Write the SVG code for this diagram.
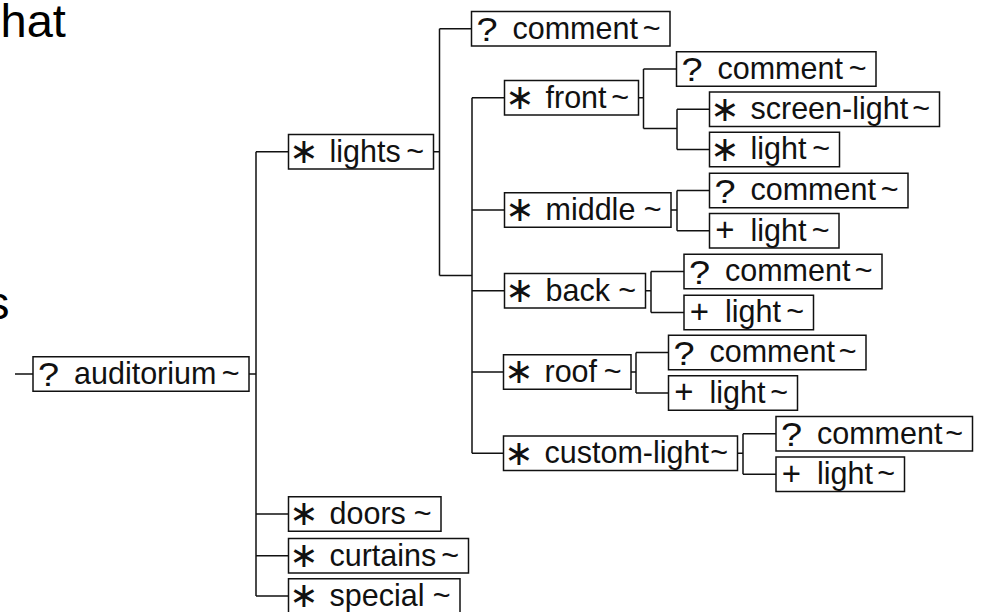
<svg xmlns="http://www.w3.org/2000/svg" width="988" height="612" viewBox="0 0 988 612">
  <style>
    .box { fill: #fff; stroke: #111; stroke-width: 1.5; }
    .wire { fill: none; stroke: #111; stroke-width: 1.5; }
    .name { font-family: "Liberation Sans", Arial, sans-serif; font-size: 30.5px; fill: #111; }
    .tilde { font-family: "Liberation Sans", Arial, sans-serif; font-size: 30.5px; fill: #111; text-anchor: end; }
    .q { font-family: "Liberation Sans", Arial, sans-serif; font-size: 33px; fill: #111; text-anchor: middle; }
    .star { font-family: "DejaVu Sans", sans-serif; font-size: 35px; fill: #111; text-anchor: middle; }
    .plus { font-family: "Liberation Sans", Arial, sans-serif; font-size: 33px; fill: #111; text-anchor: middle; }
    .big { font-family: "Liberation Sans", Arial, sans-serif; font-size: 47px; fill: #000; }
  </style>
  <defs>
    <!-- occurrence markers: optional, zero-or-more, one-or-more -->
    <text id="m-opt" class="q" transform="translate(15.5 29.5) scale(1.15 1)">?</text>
    <text id="m-many" class="star" x="15.5" y="28.5">∗</text>
    <text id="m-plus" class="plus" x="15.5" y="27.5">+</text>
  </defs>

  <rect width="988" height="612" fill="#fff"/>

  <!-- fragments of surrounding slide text -->
  <text class="big" x="0.5" y="37">hat</text>
  <text class="big" x="9.5" y="319" text-anchor="end">s</text>

  <!-- tree connectors -->
  <g id="connectors" class="wire">
    <path d="M15 374H33 M249 374H256 M256 151.75V596 M256 151.75H288.5 M256 514H288.5 M256 555.75H288.5 M256 596H288.5"/>
    <path d="M433.5 151.75H439.5 M439.5 28.75V275.5 M439.5 28.75H471.5 M439.5 275.5H472"/>
    <path d="M472 97.75V453.25 M472 97.75H504.5 M472 210H504.5 M472 290.75H504.5 M472 372H503.5 M472 453.25H503.5"/>
    <path d="M638.5 97.75H643.5 M643.5 69V128.5 M643.5 69H676.5 M643.5 128.5H677 M677 109.25V149.5 M677 109.25H709.5 M677 149.5H709.5"/>
    <path d="M671 210H677 M677 190.5V230.75 M677 190.5H709.5 M677 230.75H709.5"/>
    <path d="M645.5 290.75H651 M651 271.5V312.5 M651 271.5H684 M651 312.5H684"/>
    <path d="M631 372H636 M636 352.5V393 M636 352.5H668.5 M636 393H668.5"/>
    <path d="M737.5 453.25H743 M743 433.75V474.25 M743 433.75H776 M743 474.25H776"/>
  </g>

  <!-- element nodes -->
  <g id="auditorium" transform="translate(33 356.75)">
    <rect class="box" width="216" height="34.5"/>
    <use href="#m-opt"/>
    <text class="name" x="41" y="27">auditorium</text>
    <text class="tilde" x="206.5" y="27">~</text>
  </g>

  <g id="lights" transform="translate(288.5 134.5)">
    <rect class="box" width="145" height="34.5"/>
    <use href="#m-many"/>
    <text class="name" x="41" y="27">lights</text>
    <text class="tilde" x="135.5" y="27">~</text>
  </g>

  <g id="lights-comment" transform="translate(471.5 11.5)">
    <rect class="box" width="198.5" height="34.5"/>
    <use href="#m-opt"/>
    <text class="name" x="41" y="27">comment</text>
    <text class="tilde" x="189" y="27">~</text>
  </g>

  <g id="front" transform="translate(504.5 80.5)">
    <rect class="box" width="134" height="34.5"/>
    <use href="#m-many"/>
    <text class="name" x="41" y="27">front</text>
    <text class="tilde" x="124.5" y="27">~</text>
  </g>

  <g id="front-comment" transform="translate(676.5 51.75)">
    <rect class="box" width="199.5" height="34.5"/>
    <use href="#m-opt"/>
    <text class="name" x="41" y="27">comment</text>
    <text class="tilde" x="190" y="27">~</text>
  </g>

  <g id="front-screen-light" transform="translate(709.5 92)">
    <rect class="box" width="230" height="34.5"/>
    <use href="#m-many"/>
    <text class="name" x="41" y="27">screen-light</text>
    <text class="tilde" x="220.5" y="27">~</text>
  </g>

  <g id="front-light" transform="translate(709.5 132.25)">
    <rect class="box" width="130" height="34.5"/>
    <use href="#m-many"/>
    <text class="name" x="41" y="27">light</text>
    <text class="tilde" x="120.5" y="27">~</text>
  </g>

  <g id="middle" transform="translate(504.5 192.75)">
    <rect class="box" width="166.5" height="34.5"/>
    <use href="#m-many"/>
    <text class="name" x="41" y="27">middle</text>
    <text class="tilde" x="157" y="27">~</text>
  </g>

  <g id="middle-comment" transform="translate(709.5 173.25)">
    <rect class="box" width="198.5" height="34.5"/>
    <use href="#m-opt"/>
    <text class="name" x="41" y="27">comment</text>
    <text class="tilde" x="189" y="27">~</text>
  </g>

  <g id="middle-light" transform="translate(709.5 213.5)">
    <rect class="box" width="129.5" height="34.5"/>
    <use href="#m-plus"/>
    <text class="name" x="41" y="27">light</text>
    <text class="tilde" x="120" y="27">~</text>
  </g>

  <g id="back" transform="translate(504.5 273.5)">
    <rect class="box" width="141" height="34.5"/>
    <use href="#m-many"/>
    <text class="name" x="41" y="27">back</text>
    <text class="tilde" x="131.5" y="27">~</text>
  </g>

  <g id="back-comment" transform="translate(684 254.25)">
    <rect class="box" width="198" height="34.5"/>
    <use href="#m-opt"/>
    <text class="name" x="41" y="27">comment</text>
    <text class="tilde" x="188.5" y="27">~</text>
  </g>

  <g id="back-light" transform="translate(684 295.25)">
    <rect class="box" width="129.5" height="34.5"/>
    <use href="#m-plus"/>
    <text class="name" x="41" y="27">light</text>
    <text class="tilde" x="120" y="27">~</text>
  </g>

  <g id="roof" transform="translate(503.5 354.75)">
    <rect class="box" width="127.5" height="34.5"/>
    <use href="#m-many"/>
    <text class="name" x="41" y="27">roof</text>
    <text class="tilde" x="118" y="27">~</text>
  </g>

  <g id="roof-comment" transform="translate(668.5 335.25)">
    <rect class="box" width="197.5" height="34.5"/>
    <use href="#m-opt"/>
    <text class="name" x="41" y="27">comment</text>
    <text class="tilde" x="188" y="27">~</text>
  </g>

  <g id="roof-light" transform="translate(668.5 375.75)">
    <rect class="box" width="129" height="34.5"/>
    <use href="#m-plus"/>
    <text class="name" x="41" y="27">light</text>
    <text class="tilde" x="119.5" y="27">~</text>
  </g>

  <g id="custom-light" transform="translate(503.5 436)">
    <rect class="box" width="234" height="34.5"/>
    <use href="#m-many"/>
    <text class="name" x="41" y="27">custom-light</text>
    <text class="tilde" x="224.5" y="27">~</text>
  </g>

  <g id="custom-light-comment" transform="translate(776 416.5)">
    <rect class="box" width="196.5" height="34.5"/>
    <use href="#m-opt"/>
    <text class="name" x="41" y="27">comment</text>
    <text class="tilde" x="187" y="27">~</text>
  </g>

  <g id="custom-light-light" transform="translate(776 457)">
    <rect class="box" width="128.5" height="34.5"/>
    <use href="#m-plus"/>
    <text class="name" x="41" y="27">light</text>
    <text class="tilde" x="119" y="27">~</text>
  </g>

  <g id="doors" transform="translate(288.5 496.75)">
    <rect class="box" width="152.5" height="34.5"/>
    <use href="#m-many"/>
    <text class="name" x="41" y="27">doors</text>
    <text class="tilde" x="143" y="27">~</text>
  </g>

  <g id="curtains" transform="translate(288.5 538.5)">
    <rect class="box" width="180" height="34.5"/>
    <use href="#m-many"/>
    <text class="name" x="41" y="27">curtains</text>
    <text class="tilde" x="170.5" y="27">~</text>
  </g>

  <g id="special" transform="translate(288.5 578.75)">
    <rect class="box" width="171.5" height="34.5"/>
    <use href="#m-many"/>
    <text class="name" x="41" y="27">special</text>
    <text class="tilde" x="162" y="27">~</text>
  </g>
</svg>
